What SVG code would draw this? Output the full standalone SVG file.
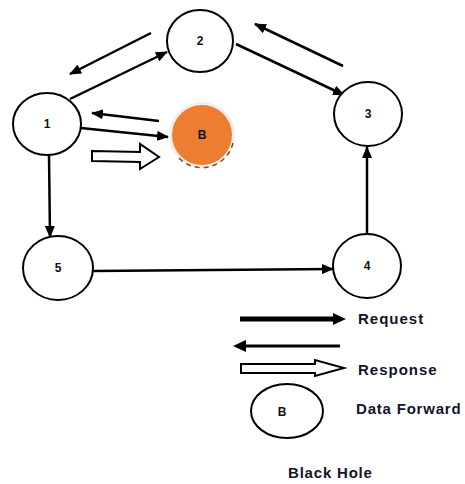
<svg xmlns="http://www.w3.org/2000/svg" width="465" height="484" viewBox="0 0 465 484">
  <style>
    .node { fill: #fff; stroke: #000; stroke-width: 2; }
    .lbl { font-family: "Liberation Sans", Arial, sans-serif; font-weight: bold; font-size: 12px; fill: #111; text-anchor: middle; }
    .edge { fill: none; stroke: #000; stroke-width: 2.5; marker-end: url(#head); }
    .hollow { fill: #fff; stroke: #000; stroke-width: 2; stroke-linejoin: miter; }
    .legend { font-family: "Liberation Sans", Arial, sans-serif; font-weight: bold; font-size: 15px; fill: #14142a; letter-spacing: 1px; }
  </style>
  <defs>
    <marker id="head" markerUnits="userSpaceOnUse" markerWidth="12" markerHeight="10" refX="11" refY="5" orient="auto">
      <path d="M0,0 L12,5 L0,10 Z" fill="#000"/>
    </marker>
  </defs>

  <g id="connectors">
    <!-- 1 -> 2 request, 2 -> 1 reply -->
    <line class="edge" x1="70" y1="99" x2="167" y2="52"/>
    <line class="edge" x1="151" y1="33" x2="70" y2="74"/>
    <!-- 2 -> 3 request, 3 -> 2 reply -->
    <line class="edge" x1="236" y1="44" x2="344" y2="95"/>
    <line class="edge" x1="343" y1="66" x2="255" y2="24"/>
    <!-- 1 <-> B -->
    <line class="edge" x1="81" y1="128" x2="168" y2="137"/>
    <line class="edge" x1="159" y1="121" x2="92" y2="113"/>
    <!-- data forwarded to B -->
    <polygon class="hollow" points="92,151 140,152 140,144 159,157 140,169 140,162 92,161"/>
    <!-- 1 -> 5, 5 -> 4, 4 -> 3 -->
    <line class="edge" x1="49" y1="155" x2="50" y2="237"/>
    <line class="edge" x1="93" y1="271" x2="333" y2="269"/>
    <line class="edge" x1="367" y1="234" x2="367" y2="147"/>
  </g>

  <g id="node-1">
    <ellipse class="node" cx="47" cy="124" rx="34" ry="31"/>
    <text class="lbl" x="47" y="128">1</text>
  </g>
  <g id="node-2">
    <ellipse class="node" cx="200" cy="41" rx="33" ry="31"/>
    <text class="lbl" x="200" y="45">2</text>
  </g>
  <g id="node-3">
    <ellipse class="node" cx="368" cy="114" rx="34" ry="32"/>
    <text class="lbl" x="368" y="118">3</text>
  </g>
  <g id="node-4">
    <ellipse class="node" cx="367" cy="266" rx="34" ry="32"/>
    <text class="lbl" x="367" y="270">4</text>
  </g>
  <g id="node-5">
    <ellipse class="node" cx="58" cy="268" rx="35" ry="32"/>
    <text class="lbl" x="58" y="272">5</text>
  </g>
  <g id="node-B">
    <circle cx="202" cy="135" r="33" fill="#efefef"/>
    <circle cx="202" cy="135" r="30" fill="#ED7D31"/>
    <path d="M233,143 A32,32 0 0 1 178,157" fill="none" stroke="#8a4a1c" stroke-width="1.5" stroke-dasharray="5,4"/>
    <text class="lbl" x="202" y="139">B</text>
  </g>

  <g id="legend">
    <line x1="240" y1="319" x2="336" y2="319" stroke="#000" stroke-width="5"/>
    <path d="M333,313 L346,319 L333,325 Z" fill="#000"/>
    <text class="legend" x="358" y="324">Request</text>

    <line x1="340" y1="346" x2="244" y2="346" stroke="#000" stroke-width="3"/>
    <path d="M246,340 L233,346 L246,352 Z" fill="#000"/>

    <polygon class="hollow" points="241,364 315,364 315,360 344,368 315,376 315,373 241,373"/>
    <text class="legend" x="358" y="375">Response</text>

    <ellipse class="node" cx="287" cy="411" rx="36" ry="27"/>
    <text class="lbl" x="282" y="416">B</text>
    <text class="legend" x="356" y="414" style="letter-spacing:0.8px">Data Forward</text>

    <text class="legend" x="288" y="478" style="letter-spacing:0.8px">Black Hole</text>
  </g>
</svg>
